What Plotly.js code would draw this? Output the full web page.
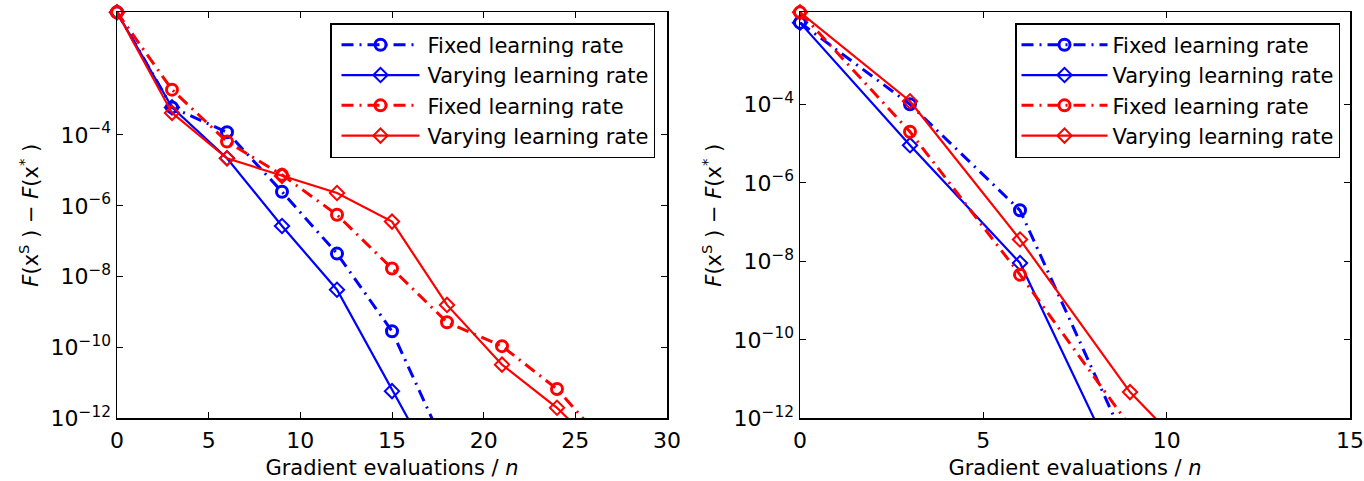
<!DOCTYPE html>
<html>
<head>
<meta charset="utf-8">
<script src="https://cdn.plot.ly/plotly-3.0.1.min.js"></script>
<style>html,body{margin:0;padding:0;background:#fff;}#chart{width:1364px;height:481px;}</style>
</head>
<body>
<div id="chart"></div>
<script>
// ---- data ----
var legendNames = ["Fixed learning rate", "Varying learning rate", "Fixed learning rate", "Varying learning rate"];

// Left panel
var leftXBlue = [0, 3, 6, 9, 12, 15, 18];
var leftBlueFixed   = [0.29, 6.0e-4, 1.2e-4, 2.5e-6, 4.5e-8, 2.9e-10, 1.2e-13];
var leftBlueVarying = [0.29, 6.0e-4, 2.2e-5, 2.7e-7, 4.3e-9, 5.9e-12, 1.0e-14];
var leftXRed = [0, 3, 6, 9, 12, 15, 18, 21, 24, 27];
var leftRedFixed   = [0.29, 1.9e-3, 6.5e-5, 7.5e-6, 5.6e-7, 1.7e-8, 5.2e-10, 1.1e-10, 6.8e-12, 1.2e-13];
var leftRedVarying = [0.29, 4.2e-4, 2.2e-5, 7.0e-6, 2.3e-6, 3.6e-7, 1.6e-9, 3.3e-11, 2.0e-12, 6.0e-14];

// Right panel
var rightX = [0, 3, 6, 9];
var rightXRedVarying = [0, 3, 6, 9, 12];
var rightBlueFixed   = [1.2e-2, 1.0e-4, 2.0e-7, 1.4e-13];
var rightBlueVarying = [1.2e-2, 9.1e-6, 9.1e-9, 1.2e-14];
var rightRedFixed    = [2.2e-2, 2.0e-5, 4.6e-9, 6.3e-13];
var rightRedVarying  = [2.2e-2, 1.2e-4, 3.6e-8, 4.7e-12, 6.0e-15];

var yTickVals = [1e-12, 1e-10, 1e-8, 1e-6, 1e-4];
var yTickText = ["10<sup>\u221212</sup>", "10<sup>\u221210</sup>", "10<sup>\u22128</sup>", "10<sup>\u22126</sup>", "10<sup>\u22124</sup>"];
var leftXTicks = [0, 5, 10, 15, 20, 25, 30];
var rightXTicks = [0, 5, 10, 15];

// ---- styles ----
var BLUE = "#0000ff", RED = "#ff0000";
var DASHDOT = "12px,6px,2px,6px";
var FS = 21, TFS = 22;
var FONT = "DejaVu Sans, Liberation Sans, Arial, sans-serif";
function fixedTrace(x, y, color, name, xa, ya, lg) {
  return {x: x, y: y, name: name, xaxis: xa, yaxis: ya, legend: lg, type: "scatter", mode: "lines+markers",
    cliponaxis: false,
    line: {color: color, width: 3, dash: DASHDOT},
    marker: {symbol: "circle-open", size: 11, color: color, line: {color: color, width: 3}}};
}
function varyingTrace(x, y, color, name, xa, ya, lg) {
  return {x: x, y: y, name: name, xaxis: xa, yaxis: ya, legend: lg, type: "scatter", mode: "lines+markers",
    cliponaxis: false,
    line: {color: color, width: 2.2},
    marker: {symbol: "diamond-open", size: 11, color: color, line: {color: color, width: 2}}};
}

var traces = [
  fixedTrace(leftXBlue, leftBlueFixed, BLUE, legendNames[0], "x", "y", "legend"),
  varyingTrace(leftXBlue, leftBlueVarying, BLUE, legendNames[1], "x", "y", "legend"),
  fixedTrace(leftXRed, leftRedFixed, RED, legendNames[2], "x", "y", "legend"),
  varyingTrace(leftXRed, leftRedVarying, RED, legendNames[3], "x", "y", "legend"),
  fixedTrace(rightX, rightBlueFixed, BLUE, legendNames[0], "x2", "y2", "legend2"),
  varyingTrace(rightX, rightBlueVarying, BLUE, legendNames[1], "x2", "y2", "legend2"),
  fixedTrace(rightX, rightRedFixed, RED, legendNames[2], "x2", "y2", "legend2"),
  varyingTrace(rightXRedVarying, rightRedVarying, RED, legendNames[3], "x2", "y2", "legend2")
];

function xAxis(domain, range, ticks, anchor) {
  return {domain: domain, range: range, tickvals: ticks, anchor: anchor,
    ticks: "inside", ticklen: 6, tickwidth: 1, tickcolor: "#000",
    showline: true, linecolor: "#000", linewidth: 1.5, mirror: "ticks",
    showgrid: false, zeroline: false, tickfont: {size: TFS, color: "#000"},
    ticklabelstandoff: 2,
    title: {text: "Gradient evaluations / <i>n</i>", font: {size: FS, color: "#000"}, standoff: 8}};
}
function yAxis(range, anchor) {
  return {type: "log", domain: [0.13, 0.975], range: range, anchor: anchor,
    tickvals: yTickVals, ticktext: yTickText,
    ticks: "inside", ticklen: 6, tickwidth: 1, tickcolor: "#000",
    showline: true, linecolor: "#000", linewidth: 1.5, mirror: "ticks",
    showgrid: false, zeroline: false, tickfont: {size: TFS, color: "#000"},
    title: {text: "<i>F</i>(x<sup>S</sup> ) \u2212 <i>F</i>(x<sup>*</sup> )", font: {size: FS, color: "#000"}, standoff: 6}};
}

var legendStyle = function (x) {
  return {x: x, y: 0.952, xanchor: "left", yanchor: "top", bgcolor: "#fff",
    bordercolor: "#000", borderwidth: 1.5, font: {size: FS, color: "#000", family: FONT},
    tracegroupgap: 0, itemwidth: 86};
};

var layout = {
  width: 1364, height: 481,
  margin: {l: 0, r: 0, t: 0, b: 0},
  paper_bgcolor: "#fff", plot_bgcolor: "#fff",
  font: {family: FONT, color: "#000"},
  showlegend: true,
  xaxis: xAxis([117 / 1364, 667 / 1364], [0, 30], leftXTicks, "y"),
  yaxis: yAxis([-12, -0.53], "x"),
  xaxis2: xAxis([800 / 1364, 1350 / 1364], [0, 15], rightXTicks, "y2"),
  yaxis2: yAxis([-12, -1.65], "x2"),
  legend: legendStyle(330 / 1364),
  legend2: legendStyle(1015 / 1364)
};

Plotly.newPlot("chart", traces, layout, {displayModeBar: false, staticPlot: true}).then(function (gd) {
  // lengthen legend line samples to match the reference's long legend lines
  gd.querySelectorAll(".legend .legendlines path").forEach(function (p) {
    p.setAttribute("d", "M10,0h78");
  });
  gd.querySelectorAll(".legend .legendsymbols .legendpoints path").forEach(function (p) {
    p.setAttribute("transform", "translate(49,0)");
  });
});
</script>
</body>
</html>
